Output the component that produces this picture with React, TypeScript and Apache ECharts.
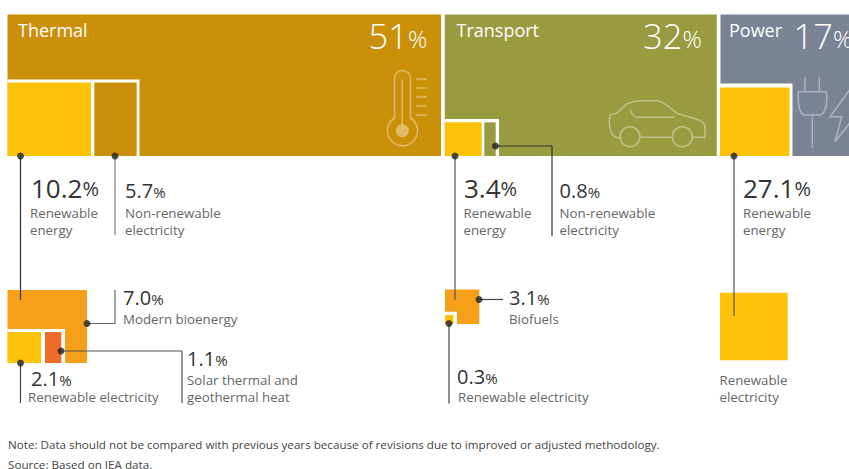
import React, { useEffect, useRef } from "react";
import * as echarts from "echarts";

// ---- data ----
const sectors = ["Thermal", "Transport", "Power"];
const sectorShares = [51, 32, 17];
const thermalParts = [10.2, 5.7];
const transportParts = [3.4, 0.8];
const powerParts = [27.1];
const thermalRenewables = [7.0, 2.1, 1.1];
const transportRenewables = [3.1, 0.3];
const noteText = "Note: Data should not be compared with previous years because of revisions due to improved or adjusted methodology.";
const sourceText = "Source: Based on IEA data.";

const FONT = "Open Sans";
const C = { thermal: "#CB900A", transport: "#989B3F", power: "#798394", yellow: "#FFC20A", orange: "#F6A019", red: "#EE6C2A", white: "#FFFFFF", dark: "#333333", grey: "#7d7d7d", text: "#666666" };

// ---- layout (drawing-space units, separate from the data) ----
const PX_PER_PCT = 8.5;
const ORIGIN = 7.5;
const GAP = 3.75;
const TOP = 14.5;
const BOTTOM = 156;

const blocks: [number, number, number, number, string][] = [
  [7.5, 79.5, 139.5, 156, C.white],
  [7.5, 82.5, 91, 156, C.yellow],
  [94.3, 82.5, 136.7, 156, C.thermal],
  [445, 119, 499, 156, C.white],
  [445, 122.3, 481.7, 156, C.yellow],
  [484.3, 122.3, 495.7, 156, C.transport],
  [720, 83.5, 792.5, 156, C.white],
  [720, 87.5, 789.5, 156, C.yellow],
  [7.5, 290, 87, 363, C.orange],
  [7.5, 329, 65, 363, C.white],
  [7.5, 332, 41, 363, C.yellow],
  [45, 332, 61.3, 363, C.red],
  [445, 289.5, 479.3, 324, C.orange],
  [445, 311.7, 457, 324, C.white],
  [445, 315, 453.5, 324, C.yellow],
  [720, 292.7, 787.7, 360.3, C.yellow],
];

const connectors: { path: number[][]; color: string }[] = [
  { path: [[20.5, 156], [20.5, 300]], color: C.dark },
  { path: [[115, 156], [115, 235]], color: C.grey },
  { path: [[455, 156], [455, 300]], color: "#555" },
  { path: [[495.5, 146], [552, 146], [552, 236]], color: C.dark },
  { path: [[734, 156], [734, 316]], color: "#555" },
  { path: [[87, 323.5], [115, 323.5], [115, 290]], color: "#666" },
  { path: [[61, 351], [182, 351], [182, 403]], color: "#555" },
  { path: [[20.5, 363], [20.5, 403]], color: "#444" },
  { path: [[479, 299.5], [503, 299.5]], color: "#444" },
  { path: [[449, 323.5], [449, 403.5]], color: "#444" },
];

const THERMO = "M394.5 118V78.5A8 8 0 0 1 410.5 78.5V118A15 15 0 1 1 394.5 118ZM402.3 80V125M416 79H427M416 88H427M416 97H427M416 106H427M416 115H427";
const CAR = "M620 138.3C615 137.5 612 135 611 132C609 126 609 120 610 115L616.7 113.3L626.7 104C632 101.5 636 100.7 640 100.7H656.7C664 101 670 108 676.7 113.3L696.7 119.3C702 121 705 124 705 126.7V137.3H692.5M672 137.3H640.5M630 110C632 114 634 117.3 637 117.3H675M692.3 136.7A10 10 0 1 1 672.3 136.7A10 10 0 1 1 692.3 136.7ZM640 136.7A10 10 0 1 1 620 136.7A10 10 0 1 1 640 136.7Z";
const PLUG = "M805 76.7V91.7M819.3 76.7V91.7M798.3 91.7H826.7V100C826.7 107 824 115 819.3 115H805C800.5 115 798.3 107 798.3 100ZM812.3 115V148.3";
const BOLT = "M849.5 90L830 116.7H841.7L835 141.7L849.5 123.3";
echarts.graphic.registerShape("thermoIcon", echarts.graphic.extendPath(THERMO, {}));
echarts.graphic.registerShape("carIcon", echarts.graphic.extendPath(CAR, {}));
echarts.graphic.registerShape("plugIcon", echarts.graphic.extendPath(PLUG, {}));
echarts.graphic.registerShape("boltIcon", echarts.graphic.extendPath(BOLT, {}));

function pct(v: number, digits = 1) { return v.toFixed(digits); }

function figure(x: number, base: number, v: number, size: number, color: string, digits = 1, weight: number | string = 400, ratio = 0.75) {
  const pSize = Math.round(size * ratio);
  const lift = Math.round((size - pSize) * 0.25);
  return {
    type: "text", x, y: base - size * 0.9, z: 20, silent: true,
    style: {
      rich: {
        n: { fontFamily: FONT, fontSize: size, fontWeight: weight, fill: color, color, lineHeight: size, verticalAlign: "bottom" },
        p: { fontFamily: FONT, fontSize: pSize, fontWeight: weight, fill: color, color, lineHeight: size, verticalAlign: "bottom", padding: [0, 0, lift, 0] },
      },
      text: `{n|${pct(v, digits)}}{p|%}`,
      textVerticalAlign: "top",
    },
  };
}
function label(x: number, base: number, text: string, size = 13.3, fill = C.text) {
  return { type: "text", x, y: base - size * 0.88, z: 20, silent: true, style: { text, fontFamily: FONT, fontSize: size, fill, textAlign: "left" } };
}

export default function App() {
  const ref = useRef<HTMLDivElement>(null);
  useEffect(() => {
    const chart = echarts.init(ref.current!, undefined, { renderer: "svg" });
    let cum = 0;
    const sectorRows = sectorShares.map((s, i) => { const r = [cum, cum + s, i]; cum += s; return r; });
    const icon = { fill: "none", stroke: "rgba(255,255,255,0.38)", lineWidth: 1.5 };

    chart.setOption({
      animation: false,
      backgroundColor: "#fff",
      grid: { left: 0, right: 0, top: 0, bottom: 0 },
      xAxis: [
        { type: "value", show: false, min: 0, max: 849, scale: true },
        { type: "value", show: false, min: -ORIGIN / PX_PER_PCT, max: (849 - ORIGIN) / PX_PER_PCT },
      ],
      yAxis: { type: "value", show: false, min: 0, max: 469, inverse: true },
      series: [
        {
          type: "custom", xAxisIndex: 1, yAxisIndex: 0, silent: true, z: 1,
          data: sectorRows,
          renderItem: (_: any, api: any) => {
            const i = api.value(2);
            const x0 = api.coord([api.value(0), TOP])[0] + i * GAP;
            const x1 = api.coord([api.value(1), TOP])[0] + i * GAP;
            return { type: "rect", shape: { x: x0, y: TOP, width: x1 - x0, height: BOTTOM - TOP }, style: { fill: [C.thermal, C.transport, C.power][i] } };
          },
        },
        {
          type: "custom", xAxisIndex: 0, yAxisIndex: 0, silent: true, z: 3,
          data: blocks.map((b, i) => [b[0], b[1], b[2], b[3], i]),
          renderItem: (_: any, api: any) => {
            const a = api.coord([api.value(0), api.value(1)]);
            const b = api.coord([api.value(2), api.value(3)]);
            return { type: "rect", shape: { x: a[0], y: a[1], width: b[0] - a[0], height: b[1] - a[1] }, style: { fill: blocks[api.value(4)][4] } };
          },
        },
        ...connectors.map((c) => ({
          type: "line", xAxisIndex: 0, yAxisIndex: 0, silent: true, z: 5, symbol: "none",
          data: c.path, lineStyle: { color: c.color, width: 1.2 },
        })),
        {
          type: "scatter", xAxisIndex: 0, yAxisIndex: 0, silent: true, z: 6, symbol: "circle", symbolSize: 7,
          itemStyle: { color: "#222" },
          data: connectors.map((c) => c.path[0]),
        },
      ],
      graphic: [
        { type: "thermoIcon", x: 0, y: 0, z: 10, silent: true, style: icon },
        { type: "circle", shape: { cx: 402.3, cy: 130.7, r: 6.5 }, z: 10, silent: true, style: { fill: "rgba(255,255,255,0.38)" } },
        { type: "carIcon", x: 0, y: 0, z: 10, silent: true, style: icon },
        { type: "plugIcon", x: 0, y: 0, z: 10, silent: true, style: icon },
        { type: "boltIcon", x: 0, y: 0, z: 10, silent: true, style: icon },

        label(18, 37, sectors[0], 18, "#fff"),
        label(456.5, 37, sectors[1], 18, "#fff"),
        label(729, 37, sectors[2], 18, "#fff"),
        figure(368.5, 50, sectorShares[0], 34.5, "#fff", 0, 300, 0.7),
        figure(643, 50, sectorShares[1], 34.5, "#fff", 0, 300, 0.7),
        figure(793.5, 50, sectorShares[2], 34.5, "#fff", 0, 300, 0.7),

        figure(31, 198, thermalParts[0], 26, C.dark),
        label(30, 218, "Renewable"), label(30, 235, "energy"),
        figure(125, 198, thermalParts[1], 20, C.dark),
        label(125, 218, "Non-renewable"), label(125, 235, "electricity"),

        figure(464, 198, transportParts[0], 26, C.dark),
        label(463.5, 218, "Renewable"), label(463.5, 235, "energy"),
        figure(559.5, 198, transportParts[1], 20, C.dark),
        label(559.5, 218, "Non-renewable"), label(559.5, 235, "electricity"),

        figure(743, 198, powerParts[0], 26, C.dark),
        label(743, 218, "Renewable"), label(743, 235, "energy"),

        figure(123, 305, thermalRenewables[0], 20, C.dark),
        label(123, 324, "Modern bioenergy"),
        figure(187, 366.5, thermalRenewables[2], 20, C.dark),
        label(187, 385.5, "Solar thermal and"), label(187, 402.5, "geothermal heat"),
        figure(31, 386.5, thermalRenewables[1], 20, C.dark),
        label(28, 402.5, "Renewable electricity"),

        figure(509, 305, transportRenewables[0], 20, C.dark),
        label(509, 324, "Biofuels"),
        figure(457, 384, transportRenewables[1], 20, C.dark),
        label(458, 402.5, "Renewable electricity"),

        label(719.5, 385.5, "Renewable"), label(719.5, 402.5, "electricity"),

        label(8, 449, noteText, 11.65, "#444"),
        label(8, 469, sourceText, 11.65, "#444"),
      ],
    });
    return () => chart.dispose();
  }, []);
  return <div ref={ref} style={{ position: "absolute", left: 0, top: 0, width: 849, height: 469, overflow: "hidden" }} />;
}
